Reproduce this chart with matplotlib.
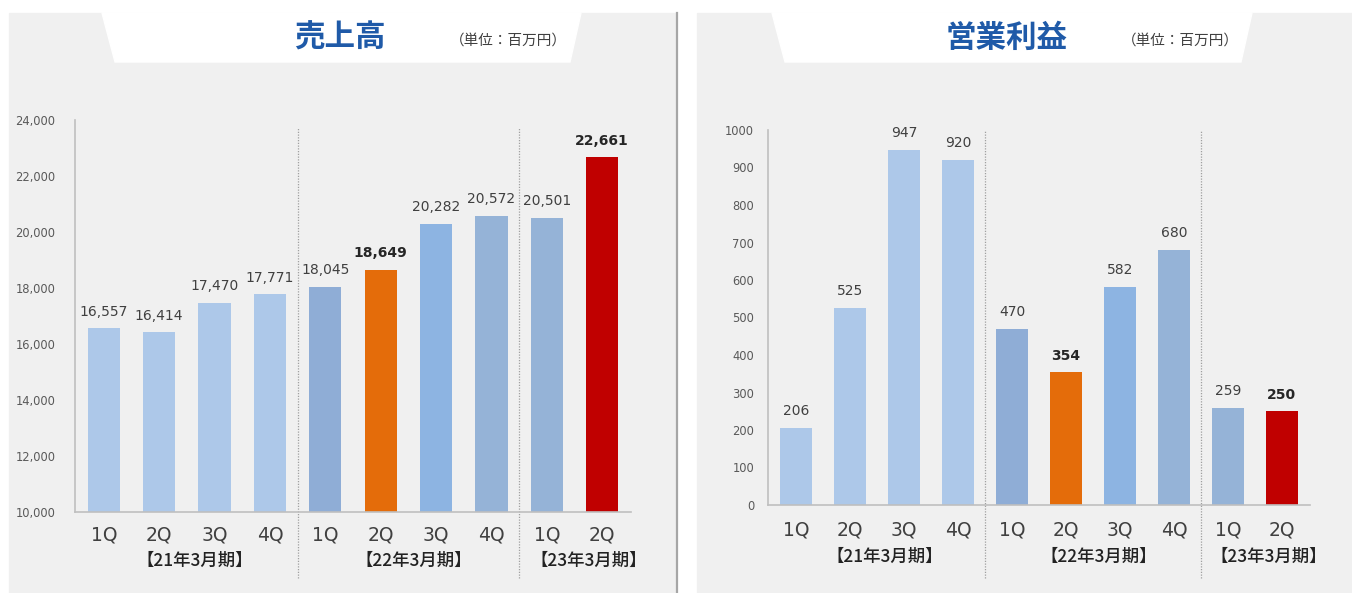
import numpy as np
import matplotlib.pyplot as plt
from matplotlib.patches import Rectangle, Polygon
from matplotlib.transforms import blended_transform_factory

# data
quarters = ["1Q", "2Q", "3Q", "4Q", "1Q", "2Q", "3Q", "4Q", "1Q", "2Q"]
periods = ["【21年3月期】", "【22年3月期】", "【23年3月期】"]
period_pos = [1.65, 5.6, 8.75]
sales = [16557, 16414, 17470, 17771, 18045, 18649, 20282, 20572, 20501, 22661]
profit = [206, 525, 947, 920, 470, 354, 582, 680, 259, 250]
highlight = [5, 9]
bar_colors = ["#ADC8E9", "#ADC8E9", "#ADC8E9", "#ADC8E9",
              "#8FADD6", "#E46C0A", "#8DB4E2", "#95B3D7",
              "#95B3D7", "#C00000"]

W, H = 1352, 593
fig = plt.figure(figsize=(W / 100, H / 100), dpi=100)
fig.patch.set_facecolor("white")

def fx(x):
    return x / W

def fy(y):
    return 1 - y / H

# panel backgrounds and title banners
for x0, x1 in [(9, 676), (697, 1352)]:
    fig.add_artist(Rectangle((fx(x0), 0), fx(x1) - fx(x0), fy(13),
                             transform=fig.transFigure, color="#F0F0F0", zorder=0))
fig.add_artist(plt.Line2D([fx(677), fx(677)], [0, fy(13)], transform=fig.transFigure,
                          color="#A6A6A6", lw=1.6, zorder=1))
for pts in [[(102, 13), (581, 13), (570, 62), (115, 62)],
            [(772, 13), (1252, 13), (1241, 62), (785, 62)]]:
    fig.add_artist(Polygon([(fx(a), fy(b)) for a, b in pts], closed=True,
                           transform=fig.transFigure, color="white", zorder=1))

jp = "Noto Sans CJK JP"
fig.text(fx(340), fy(38), "売上高", family=jp, fontsize=22, fontweight="bold",
         color="#1F5AA8", ha="center", va="center")
fig.text(fx(508), fy(41), "（単位：百万円）", family=jp, fontsize=10.5,
         color="#404040", ha="center", va="center")
fig.text(fx(1007), fy(38), "営業利益", family=jp, fontsize=22, fontweight="bold",
         color="#1F5AA8", ha="center", va="center")
fig.text(fx(1180), fy(41), "（単位：百万円）", family=jp, fontsize=10.5,
         color="#404040", ha="center", va="center")

def draw(ax, values, ylim, yticks, fmt, ypad, xpad, sep_range, group_y):
    x = np.arange(len(values))
    ax.set_facecolor("none")
    ax.bar(x, values, width=0.58, color=bar_colors, zorder=2)
    ax.set_xlim(-0.52, 9.52)
    ax.set_ylim(*ylim)
    ax.set_yticks(yticks)
    ax.set_yticklabels([fmt(v) for v in yticks], fontsize=8.3, color="#595959")
    ax.tick_params(axis="y", length=0, pad=ypad)
    ax.set_xticks(x)
    ax.set_xticklabels(quarters, fontsize=13.5, color="#404040")
    ax.tick_params(axis="x", length=0, pad=xpad)
    for s in ["top", "right"]:
        ax.spines[s].set_visible(False)
    for s in ["left", "bottom"]:
        ax.spines[s].set_color("#BFBFBF")
        ax.spines[s].set_linewidth(1.2)
    for sx in [3.5, 7.5]:
        ax.axvline(sx, ymin=sep_range[0], ymax=sep_range[1], color="#A0A0A0",
                   lw=0.9, ls=(0, (1, 1.2)), clip_on=False, zorder=1)
    for i, v in enumerate(values):
        bold = i in highlight
        ax.annotate(fmt(v), (i, v), xytext=(0, 7), textcoords="offset points",
                    ha="center", va="bottom", fontsize=10,
                    fontweight="bold" if bold else "normal",
                    color="#262626" if bold else "#404040")
    tr = blended_transform_factory(ax.transData, ax.transAxes)
    for p, px in zip(periods, period_pos):
        ax.text(px, group_y, p, transform=tr, family=jp, fontsize=12.5,
                fontweight="medium", color="#222222", ha="center", va="center")

ax1 = fig.add_axes([fx(75), fy(512), fx(631) - fx(75), fy(120) - fy(512)])
draw(ax1, sales, (10000, 24000), list(range(10000, 24001, 2000)),
     lambda v: f"{v:,}", 14, 10, (-0.168, 0.98), -0.125)

ax2 = fig.add_axes([fx(768), fy(505), fx(1310) - fx(768), fy(130) - fy(505)])
draw(ax2, profit, (0, 1000), list(range(0, 1001, 100)),
     lambda v: f"{v}", 10, 11, (-0.195, 1.0), -0.139)

fig.savefig("out.png", dpi=100, facecolor="white")
